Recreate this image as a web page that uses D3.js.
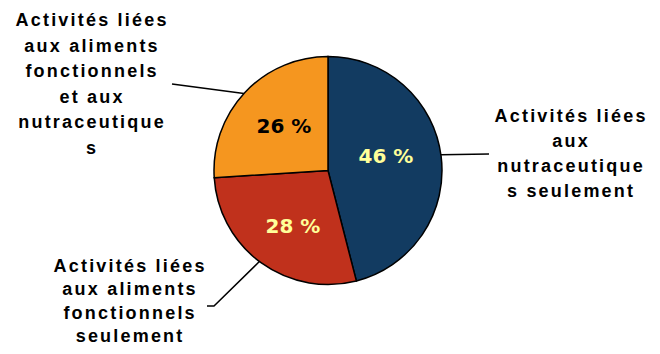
<!DOCTYPE html>
<html><head><meta charset="utf-8">
<script src="https://cdn.jsdelivr.net/npm/d3@7"></script>
<style>
html,body{margin:0;padding:0;background:#fff;}
svg{display:block;}
</style></head>
<body>
<svg id="chart" width="660" height="354"></svg>
<script>
// ---- data ----
const categories = [
  "Activités liées aux nutraceutiques seulement",
  "Activités liées aux aliments fonctionnels seulement",
  "Activités liées aux aliments fonctionnels et aux nutraceutiques"
];
const values = [46, 28, 26];
const valueLabels = ["46 %", "28 %", "26 %"];
const labelLines = [
  ["Activités liées", "aux", "nutraceutique", "s seulement"],
  ["Activités liées", "aux aliments", "fonctionnels", "seulement"],
  ["Activités liées", "aux aliments", "fonctionnels", "et aux", "nutraceutique", "s"]
];
const colors = ["#123B61", "#C0311C", "#F5961F"];
const valueColors = ["#FFFF99", "#FFFF99", "#000000"];

// ---- layout ----
const cx = 328, cy = 170.5, R = 114;
const svg = d3.select("#chart");
const g = svg.append("g").attr("transform", `translate(${cx},${cy})`);

const pie = d3.pie().sort(null).value(d => d).startAngle(0).endAngle(2 * Math.PI);
const arcs = pie(values);
const arc = d3.arc().innerRadius(0).outerRadius(R);

g.selectAll("path.slice").data(arcs).join("path")
  .attr("class", "slice")
  .attr("d", arc)
  .attr("fill", (d, i) => colors[i])
  .attr("stroke", "#000").attr("stroke-width", 1.5);

// value labels (positions relative to center)
const valuePos = [[58, -7.5], [-35, 62.5], [-44, -37.5]];
g.selectAll("text.val").data(arcs).join("text")
  .attr("class", "val")
  .attr("x", (d, i) => valuePos[i][0])
  .attr("y", (d, i) => valuePos[i][1])
  .attr("text-anchor", "middle")
  .attr("font-family", "'DejaVu Sans', sans-serif")
  .attr("font-weight", "bold")
  .attr("font-size", 20)
  .attr("fill", (d, i) => valueColors[i])
  .text((d, i) => valueLabels[i]);

// leader lines: angle on pie edge, then points outward
const leaders = [
  { angle: 82 * Math.PI / 180, pts: [[489, 154]] },
  { angle: 217 * Math.PI / 180, pts: [[214, 306], [207, 306]] },
  { angle: 312.5 * Math.PI / 180, pts: [[172, 84]] }
];
leaders.forEach(l => {
  const sx = cx + R * Math.sin(l.angle), sy = cy - R * Math.cos(l.angle);
  const p = [[sx, sy]].concat(l.pts);
  svg.append("path")
    .attr("d", d3.line()(p))
    .attr("fill", "none").attr("stroke", "#000").attr("stroke-width", 1.5);
});

// category labels
const labelPos = [
  { x: 570, y: 122, dy: 25 },
  { x: 129, y: 272, dy: 23.3 },
  { x: 91, y: 26, dy: 25.5 }
];
labelLines.forEach((lines, i) => {
  const t = svg.append("text")
    .attr("text-anchor", "middle")
    .attr("font-family", "'Liberation Sans', Arial, sans-serif")
    .attr("font-weight", "bold")
    .attr("font-size", 18)
    .attr("letter-spacing", 2.2)
    .attr("fill", "#000");
  lines.forEach((ln, j) => {
    t.append("tspan")
      .attr("x", labelPos[i].x + 1.1)
      .attr("y", labelPos[i].y + j * labelPos[i].dy)
      .text(ln);
  });
});
</script>
</body></html>
